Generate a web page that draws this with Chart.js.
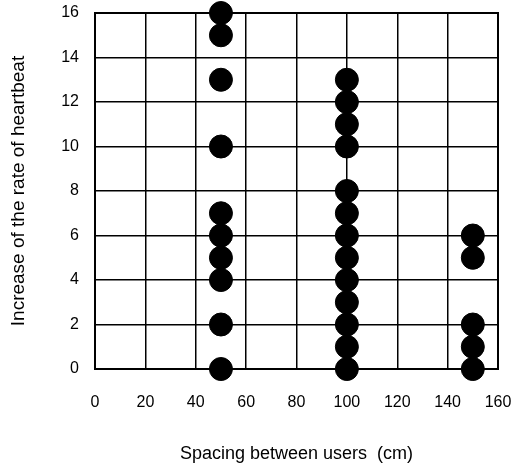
<!DOCTYPE html>
<html>
<head>
<meta charset="utf-8">
<script src="https://cdn.jsdelivr.net/npm/chart.js@4/dist/chart.umd.min.js"></script>
<style>
  html, body { margin: 0; padding: 0; background: #fff; }
  #wrap { width: 512px; height: 464px; }
</style>
</head>
<body>
<div id="wrap"><canvas id="heartChart" width="512" height="464"></canvas></div>
<script>
// spacing between users (cm) and the heartbeat increases read at each spacing
var spacing50 = [0, 2, 4, 5, 6, 7, 10, 13, 15, 16];
var spacing100 = [0, 1, 2, 3, 4, 5, 6, 7, 8, 10, 11, 12, 13];
var spacing150 = [0, 1, 2, 5, 6];
var xTicks = [0, 20, 40, 60, 80, 100, 120, 140, 160];
var yTicks = [0, 2, 4, 6, 8, 10, 12, 14, 16];

function toPoints(x, values) {
	return values.map(function(v) {
		return { x : x, y : v };
	});
}

var allPoints = toPoints(50, spacing50).concat(toPoints(100, spacing100),
		toPoints(150, spacing150));

var family = "'Liberation Sans', Arial, sans-serif";
var tickFont = { family : family, size : 16 };
var xTitleFont = { family : family, size : 18 };
var yTitleFont = { family : family, size : 19 };

var ctx = document.getElementById("heartChart");
var chart = new Chart(ctx, {
	type : 'scatter',
	data : {
		datasets : [ {
			data : allPoints,
			backgroundColor : '#000',
			borderColor : '#000',
			pointRadius : 11.5,
			pointHoverRadius : 11.5,
			clip : false
		} ]
	},
	options : {
		responsive : false,
		animation : false,
		events : [],
		layout : {
			padding : { left : 0, top : 13, right : 14, bottom : 0 }
		},
		plugins : {
			legend : { display : false },
			tooltip : { enabled : false }
		},
		scales : {
			x : {
				type : 'linear',
				min : 0,
				max : 160,
				afterBuildTicks : function(scale) {
					scale.ticks = xTicks.map(function(v) { return { value : v }; });
				},
				grid : {
					color : '#000',
					lineWidth : 1.5,
					drawTicks : false
				},
				border : { color : '#000', width : 2 },
				ticks : {
					color : '#000',
					font : tickFont,
					padding : 24,
					maxRotation : 0
				},
				title : {
					display : true,
					text : 'Spacing between users  (cm)',
					color : '#000',
					font : xTitleFont,
					padding : { top : 0, bottom : -1 }
				},
				afterFit : function(scale) {
					scale.height = 95;
					scale.paddingLeft = 0;
					scale.paddingRight = 0;
				}
			},
			y : {
				type : 'linear',
				min : 0,
				max : 16,
				afterBuildTicks : function(scale) {
					scale.ticks = yTicks.map(function(v) { return { value : v }; });
				},
				grid : {
					color : '#000',
					lineWidth : 1.5,
					drawTicks : false
				},
				border : { color : '#000', width : 2 },
				ticks : {
					color : '#000',
					font : tickFont,
					padding : 16
				},
				title : {
					display : true,
					text : 'Increase of the rate of heartbeat',
					color : '#000',
					font : yTitleFont,
					padding : { top : 7, bottom : 0 }
				},
				afterFit : function(scale) {
					scale.width = 95;
					scale.paddingTop = 0;
					scale.paddingBottom = 0;
				}
			}
		}
	},
	plugins : [ {
		// closed box round the plot, as in the original
		id : 'frame',
		afterDraw : function(c) {
			var a = c.chartArea;
			var g = c.ctx;
			g.save();
			g.strokeStyle = '#000';
			g.lineWidth = 2;
			g.strokeRect(a.left, a.top, a.right - a.left, a.bottom - a.top);
			g.restore();
		}
	} ]
});
</script>
</body>
</html>
